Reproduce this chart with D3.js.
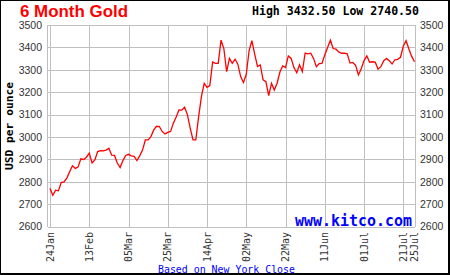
<!DOCTYPE html>
<html>
<head>
<meta charset="utf-8">
<script src="https://cdn.jsdelivr.net/npm/d3@7"></script>
<style>
  html, body { margin: 0; padding: 0; background: #fff; }
  svg { display: block; }
</style>
</head>
<body>
<script>
// weekday index 0 = 24Jan ... 130 = 25Jul (NY close, USD/oz)
const prices = [
  2772, 2740.5, 2763, 2760, 2797, 2800, 2817, 2845, 2872, 2860,
  2866, 2903, 2900, 2910, 2928, 2884, 2898, 2935, 2939, 2938,
  2942, 2950, 2919, 2918, 2884, 2864, 2895, 2918, 2923, 2916,
  2914, 2895, 2916, 2942, 2987, 2987, 3002, 3032, 3048, 3047,
  3025, 3014, 3021, 3025, 3062, 3089, 3121, 3120, 3133, 3100,
  3040, 2987, 2987, 3090, 3180, 3240, 3222, 3230, 3335, 3329,
  3329, 3432.5, 3395, 3292, 3351, 3329, 3347, 3325, 3270, 3243,
  3280, 3385, 3430, 3370, 3315, 3322, 3255, 3247, 3185, 3240,
  3210, 3240, 3290, 3317, 3310, 3362, 3351, 3310, 3287, 3322,
  3292, 3375, 3371, 3374, 3351, 3314, 3328, 3329, 3366, 3400,
  3432, 3395, 3392, 3380, 3374, 3374, 3371, 3330, 3333, 3320,
  3277, 3305, 3341, 3362, 3334, 3336, 3334, 3303, 3314, 3340,
  3351, 3341, 3326, 3345, 3347, 3356, 3405, 3430, 3393, 3360,
  3336
];

const tickIndex = [0, 14, 28, 42, 56, 70, 84, 98, 112, 126, 130];
const tickLabels = ["24Jan", "13Feb", "05Mar", "25Mar", "14Apr", "02May", "22May", "11Jun", "01Jul", "21Jul", "25Jul"];
const yTicks = [2600, 2700, 2800, 2900, 3000, 3100, 3200, 3300, 3400, 3500];

const title = "6 Month Gold";
const highLow = "High 3432.50 Low 2740.50";
const yLabel = "USD per ounce";
const footer = "Based on New York Close";
const site = "www.kitco.com";

const width = 450;
const height = 275;
const gridColor = "#c0c0c0";
const mono = "'DejaVu Sans Mono', 'Liberation Mono', monospace";
const sans = "'Liberation Sans', Arial, sans-serif";

const x = d3.scaleLinear().domain([0, 130]).range([50, 414.5]);
const y = d3.scaleLinear().domain([2600, 3500]).range([226.7, 25]);

const svg = d3.select("body").append("svg")
    .attr("width", width)
    .attr("height", height);

// outer frame
svg.append("rect").attr("width", width).attr("height", height).attr("fill", "#000");
svg.append("rect").attr("x", 1).attr("y", 1).attr("width", 447).attr("height", 272).attr("fill", "#fff");

// grid
const grid = svg.append("g")
    .attr("stroke", gridColor)
    .attr("stroke-width", 1)
    .attr("shape-rendering", "crispEdges");

grid.selectAll(".hgrid")
    .data(yTicks)
    .join("line")
    .attr("x1", 47.5)
    .attr("x2", x(130))
    .attr("y1", d => Math.round(y(d)) + 0.5)
    .attr("y2", d => Math.round(y(d)) + 0.5);

grid.selectAll(".vgrid")
    .data(tickIndex)
    .join("line")
    .attr("x1", d => Math.round(x(d)) + 0.5)
    .attr("x2", d => Math.round(x(d)) + 0.5)
    .attr("y1", y(3500))
    .attr("y2", y(2600));

grid.append("line")
    .attr("x1", 47.5).attr("x2", 47.5)
    .attr("y1", y(3500)).attr("y2", y(2600));

// y labels both sides
const yl = svg.append("g")
    .attr("font-family", sans)
    .attr("font-size", 10.5)
    .attr("fill", "#333");

yl.selectAll(".yl")
    .data(yTicks)
    .join("text")
    .attr("x", 42)
    .attr("y", d => y(d))
    .attr("dy", "0.36em")
    .attr("text-anchor", "end")
    .text(d => d);

yl.selectAll(".yr")
    .data(yTicks)
    .join("text")
    .attr("x", 420)
    .attr("y", d => y(d))
    .attr("dy", "0.36em")
    .attr("text-anchor", "start")
    .text(d => d);

// x labels, rotated
svg.append("g")
    .attr("font-family", mono)
    .attr("font-size", 10)
    .attr("fill", "#333")
    .selectAll("text")
    .data(tickIndex)
    .join("text")
    .attr("transform", d => `translate(${x(d)},232) rotate(-90)`)
    .attr("dy", "0.35em")
    .attr("text-anchor", "end")
    .text((d, i) => tickLabels[i]);

// site watermark
svg.append("text")
    .attr("x", 295)
    .attr("y", 225.5)
    .attr("font-family", mono)
    .attr("font-weight", "bold")
    .attr("font-size", 15)
    .attr("fill", "#0000ff")
    .attr("textLength", 117)
    .attr("lengthAdjust", "spacingAndGlyphs")
    .text(site);

// price line
const line = d3.line()
    .x((d, i) => x(i))
    .y(d => y(d));

svg.append("path")
    .datum(prices)
    .attr("fill", "none")
    .attr("stroke", "#ff0000")
    .attr("stroke-width", 1.3)
    .attr("stroke-linejoin", "miter")
    .attr("d", line);

// titles
svg.append("text")
    .attr("x", 20)
    .attr("y", 17.2)
    .attr("font-family", sans)
    .attr("font-weight", "bold")
    .attr("font-size", 16.5)
    .attr("fill", "#ff0000")
    .attr("textLength", 108)
    .attr("lengthAdjust", "spacingAndGlyphs")
    .text(title);

svg.append("text")
    .attr("x", 252)
    .attr("y", 15.3)
    .attr("font-family", mono)
    .attr("font-weight", "bold")
    .attr("font-size", 11.5)
    .attr("fill", "#000")
    .attr("textLength", 167)
    .attr("lengthAdjust", "spacingAndGlyphs")
    .text(highLow);

svg.append("text")
    .attr("transform", "translate(12.5,126) rotate(-90)")
    .attr("text-anchor", "middle")
    .attr("font-family", mono)
    .attr("font-weight", "bold")
    .attr("font-size", 11)
    .attr("fill", "#000")
    .attr("textLength", 88)
    .attr("lengthAdjust", "spacingAndGlyphs")
    .text(yLabel);

svg.append("text")
    .attr("x", 158)
    .attr("y", 272.5)
    .attr("font-family", mono)
    .attr("font-size", 10)
    .attr("fill", "#0000ff")
    .attr("textLength", 137)
    .attr("lengthAdjust", "spacingAndGlyphs")
    .text(footer);
</script>
</body>
</html>
